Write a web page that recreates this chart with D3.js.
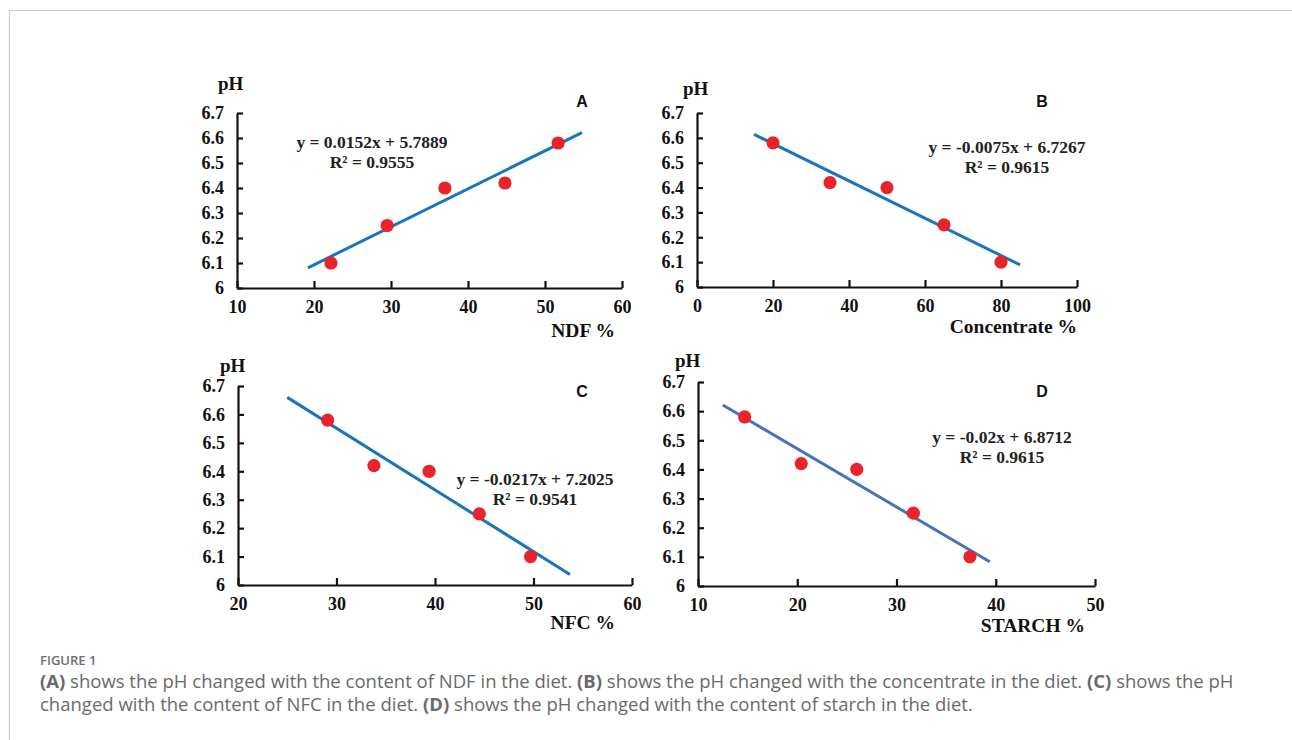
<!DOCTYPE html>
<html>
<head>
<meta charset="utf-8">
<script src="https://cdn.jsdelivr.net/npm/d3@7/dist/d3.min.js"></script>
<style>
  html, body { margin: 0; padding: 0; background: #fff; }
  svg { display: block; }
  .tick text { font-family: "Liberation Serif", "Times New Roman", serif; font-weight: bold; }
</style>
</head>
<body>
<svg id="fig" width="1292" height="740"></svg>
<script>
// ---- data -------------------------------------------------------------
const phTicks = [6, 6.1, 6.2, 6.3, 6.4, 6.5, 6.6, 6.7];

// A: NDF %
const ndfX = [22.2, 29.5, 37.0, 44.8, 51.7];
const ndfPH = [6.10, 6.25, 6.40, 6.42, 6.58];
const ndfTicks = [10, 20, 30, 40, 50, 60];
const ndfFit = { slope: 0.0152, intercept: 5.7889, from: 19.2, to: 54.8 };
const ndfEq = ["y = 0.0152x + 5.7889", "R\u00B2 = 0.9555"];

// B: Concentrate %
const concX = [20, 35, 50, 65, 80];
const concPH = [6.58, 6.42, 6.40, 6.25, 6.10];
const concTicks = [0, 20, 40, 60, 80, 100];
const concFit = { slope: -0.0075, intercept: 6.7267, from: 15, to: 85 };
const concEq = ["y = -0.0075x + 6.7267", "R\u00B2 = 0.9615"];

// C: NFC %
const nfcX = [29.1, 33.8, 39.4, 44.5, 49.7];
const nfcPH = [6.58, 6.42, 6.40, 6.25, 6.10];
const nfcTicks = [20, 30, 40, 50, 60];
const nfcFit = { slope: -0.0217, intercept: 7.2025, from: 25, to: 53.7 };
const nfcEq = ["y = -0.0217x + 7.2025", "R\u00B2 = 0.9541"];

// D: STARCH %
const starchX = [14.7, 20.4, 26.0, 31.7, 37.4];
const starchPH = [6.58, 6.42, 6.40, 6.25, 6.10];
const starchTicks = [10, 20, 30, 40, 50];
const starchFit = { slope: -0.02, intercept: 6.8712, from: 12.5, to: 39.4 };
const starchEq = ["y = -0.02x + 6.8712", "R\u00B2 = 0.9615"];

// ---- layout -----------------------------------------------------------
const panels = [
  { letter: "A", xs: ndfX, ys: ndfPH, ticks: ndfTicks, fit: ndfFit, eq: ndfEq, title: "NDF %",
    box: [237, 622, 113, 288], lineColor: "#1b75bc",
    pH: [218, 90], let: [582, 107], eqPos: [372, 148], titlePos: [615, 337] },
  { letter: "B", xs: concX, ys: concPH, ticks: concTicks, fit: concFit, eq: concEq, title: "Concentrate %",
    box: [697, 1077, 113, 287], lineColor: "#1b75bc",
    pH: [683, 95], let: [1042, 107], eqPos: [1007, 153], titlePos: [1077, 333] },
  { letter: "C", xs: nfcX, ys: nfcPH, ticks: nfcTicks, fit: nfcFit, eq: nfcEq, title: "NFC %",
    box: [238, 632, 386, 585], lineColor: "#1b75bc",
    pH: [220, 372], let: [582, 397], eqPos: [535, 485], titlePos: [615, 629] },
  { letter: "D", xs: starchX, ys: starchPH, ticks: starchTicks, fit: starchFit, eq: starchEq, title: "STARCH %",
    box: [698, 1095, 382, 586], lineColor: "#4a72b8",
    pH: [675, 367], let: [1042, 397], eqPos: [1002, 443], titlePos: [1085, 632] }
];

const svg = d3.select("#fig");
const serif = '"Liberation Serif", "Times New Roman", serif';

// page frame
svg.append("line").attr("x1", 9).attr("x2", 1292).attr("y1", 10.5).attr("y2", 10.5)
  .attr("stroke", "#cccccc").attr("stroke-width", 1.2);
svg.append("line").attr("x1", 9.5).attr("x2", 9.5).attr("y1", 10).attr("y2", 740)
  .attr("stroke", "#cccccc").attr("stroke-width", 1.2);

panels.forEach(p => {
  const [x0, x1, yTop, yBot] = p.box;
  const x = d3.scaleLinear().domain([p.ticks[0], p.ticks[p.ticks.length - 1]]).range([x0, x1]);
  const y = d3.scaleLinear().domain([6, 6.7]).range([yBot, yTop]);
  const g = svg.append("g");

  // x axis with inward ticks
  const xa = g.append("g").attr("transform", `translate(0,${yBot})`)
    .call(d3.axisBottom(x).tickValues(p.ticks).tickSizeInner(-7).tickSizeOuter(0).tickPadding(12)
      .tickFormat(d3.format("d")));
  xa.selectAll("text").attr("font-size", 18).attr("fill", "#111");

  // y axis with inward ticks
  const ya = g.append("g").attr("transform", `translate(${x0},0)`)
    .call(d3.axisLeft(y).tickValues(phTicks).tickSizeInner(-6).tickSizeOuter(0).tickPadding(13)
      .tickFormat(d => d === 6 ? "6" : d3.format(".1f")(d)));
  ya.selectAll("text").attr("font-size", 18).attr("fill", "#111");

  [xa, ya].forEach(a => {
    a.select(".domain").attr("stroke", "#111").attr("stroke-width", 2.2);
    a.selectAll(".tick line").attr("stroke", "#111").attr("stroke-width", 2.2);
  });

  // fitted line
  g.append("line")
    .attr("x1", x(p.fit.from)).attr("y1", y(p.fit.slope * p.fit.from + p.fit.intercept))
    .attr("x2", x(p.fit.to)).attr("y2", y(p.fit.slope * p.fit.to + p.fit.intercept))
    .attr("stroke", p.lineColor).attr("stroke-width", 3);

  // observed points
  g.selectAll("circle").data(p.xs.map((v, i) => [v, p.ys[i]])).join("circle")
    .attr("cx", d => x(d[0])).attr("cy", d => y(d[1])).attr("r", 6.6)
    .attr("fill", "#e8232a");

  // labels
  g.append("text").attr("x", p.pH[0]).attr("y", p.pH[1]).text("pH")
    .attr("font-family", serif).attr("font-weight", "bold").attr("font-size", 19).attr("fill", "#111");
  g.append("text").attr("x", p.let[0]).attr("y", p.let[1]).attr("text-anchor", "middle").text(p.letter)
    .attr("font-family", '"Liberation Sans", Arial, sans-serif').attr("font-weight", "bold")
    .attr("font-size", 16).attr("fill", "#111");
  p.eq.forEach((t, i) => {
    g.append("text").attr("x", p.eqPos[0]).attr("y", p.eqPos[1] + i * 19.5).attr("text-anchor", "middle")
      .text(t).attr("font-family", serif).attr("font-weight", "bold").attr("font-size", 17.5).attr("fill", "#222");
  });
  g.append("text").attr("x", p.titlePos[0]).attr("y", p.titlePos[1]).attr("text-anchor", "end")
    .text(p.title).attr("font-family", serif).attr("font-weight", "bold").attr("font-size", 19.5).attr("fill", "#111");
});

// caption
const sans = '"Open Sans", "Noto Sans", sans-serif';
svg.append("text").attr("x", 40).attr("y", 665).text("FIGURE 1")
  .attr("font-family", sans).attr("font-weight", 600).attr("font-size", 13).attr("fill", "#6e6e6e");

const captionLines = [
  [["(A)", true], [" shows the pH changed with the content of NDF in the diet. ", false], ["(B)", true],
   [" shows the pH changed with the concentrate in the diet. ", false], ["(C)", true], [" shows the pH", false]],
  [["changed with the content of NFC in the diet. ", false], ["(D)", true],
   [" shows the pH changed with the content of starch in the diet.", false]]
];
captionLines.forEach((line, i) => {
  const t = svg.append("text").attr("x", 40).attr("y", 688 + i * 22.5)
    .attr("font-family", sans).attr("font-size", 18.5).attr("fill", "#6a6a6a")
    .attr("xml:space", "preserve");
  line.forEach(([s, b]) => t.append("tspan").text(s).attr("font-weight", b ? 700 : 400));
});
</script>
</body>
</html>
